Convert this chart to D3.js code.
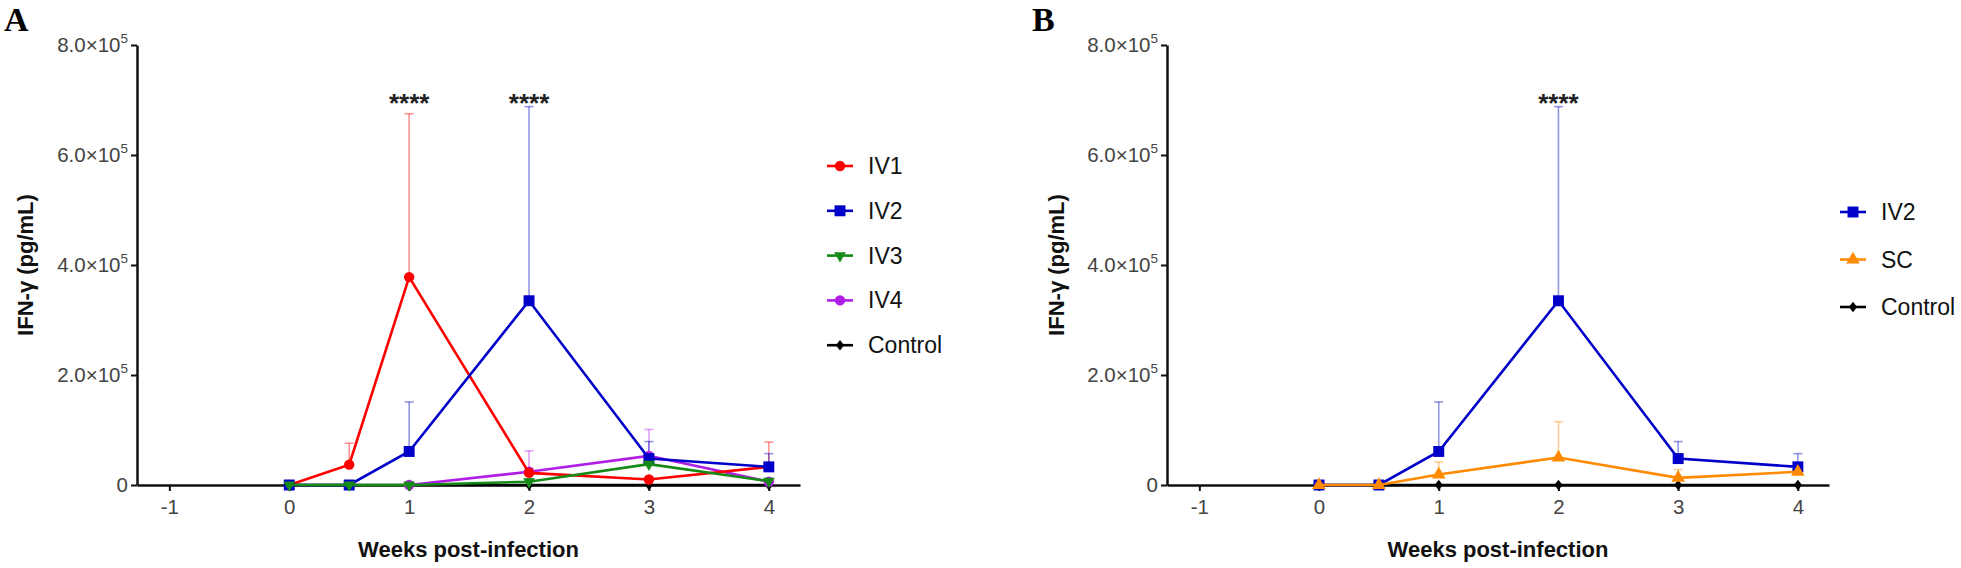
<!DOCTYPE html>
<html>
<head>
<meta charset="utf-8">
<script src="https://cdn.jsdelivr.net/npm/d3@7"></script>
<style>
  html, body { margin: 0; padding: 0; background: #fff; }
  svg { display: block; font-family: Arial, "Liberation Sans", sans-serif; }
</style>
</head>
<body>
<svg id="chart" width="1961" height="568"></svg>
<script>
// ---------------- data ----------------
const weeks = [0, 0.5, 1, 2, 3, 4];
const xTicks = [-1, 0, 1, 2, 3, 4];
const yTicks = [0, 200000, 400000, 600000, 800000];
const yTickLabels = ["0", "2.0×10|5", "4.0×10|5", "6.0×10|5", "8.0×10|5"];

const iv1Mean = [0, 37000, 378000, 22000, 10000, 33000];
const iv1Sd   = [0, 39000, 297000, 8000, 5000, 45000];
const iv2Mean = [0, 0, 61000, 335000, 48000, 33000];
const iv2Sd   = [0, 0, 90000, 353000, 31000, 24000];
const iv3Mean = [0, 0, 0, 6000, 38000, 7000];
const iv3Sd   = [0, 0, 0, 5000, 12000, 3000];
const iv4Mean = [null, null, 0, 24000, 53000, 6000];
const iv4Sd   = [null, null, 0, 38000, 48000, 4000];
const scMean  = [0, 0, 19000, 50000, 13000, 24000];
const scSd    = [0, 0, 23000, 65000, 15000, 8000];
const ctrlMean = [0, 0, 0, 0, 0, 0];
const ctrlSd   = [0, 0, 0, 0, 0, 0];

const sigA = [{week: 1, label: "****"}, {week: 2, label: "****"}];
const sigB = [{week: 2, label: "****"}];

// ---------------- styling ----------------
const diamond = {
  draw(ctx, size) {
    const w = Math.sqrt(size) * 0.55, h = Math.sqrt(size) * 0.7;
    ctx.moveTo(0, -h); ctx.lineTo(w, 0); ctx.lineTo(0, h); ctx.lineTo(-w, 0); ctx.closePath();
  }
};
const triDown = {
  draw(ctx, size) {
    const s = Math.sqrt(size * 4 / Math.sqrt(3));
    const h = s * Math.sqrt(3) / 2;
    ctx.moveTo(-s / 2, -h / 3); ctx.lineTo(s / 2, -h / 3); ctx.lineTo(0, 2 * h / 3); ctx.closePath();
  }
};

const S = {
  IV1: {mean: iv1Mean, sd: iv1Sd, color: "#ff0000", sym: d3.symbolCircle, size: 85},
  IV2: {mean: iv2Mean, sd: iv2Sd, color: "#0000c8", sym: d3.symbolSquare, size: 120},
  IV3: {mean: iv3Mean, sd: iv3Sd, color: "#168a16", sym: triDown, size: 60},
  IV4: {mean: iv4Mean, sd: iv4Sd, color: "#b01ee6", sym: d3.symbolCircle, size: 85},
  SC:  {mean: scMean, sd: scSd, color: "#ff8a00", sym: d3.symbolTriangle, size: 80},
  Control: {mean: ctrlMean, sd: ctrlSd, color: "#000000", sym: diamond, size: 55}
};

const panels = [
  {letter: "A", lx: 4, x0: 137, x1: 800, ytx: 25,
   draw: ["Control", "IV4", "IV1", "IV2", "IV3"],
   legend: ["IV1", "IV2", "IV3", "IV4", "Control"], legX: 840, legY: 166, legStep: 44.8,
   sig: sigA},
  {letter: "B", lx: 1032, x0: 1167, x1: 1829, ytx: 1056,
   draw: ["Control", "IV2", "SC"],
   legend: ["IV2", "SC", "Control"], legX: 1853, legY: 212, legStep: 47.5,
   sig: sigB}
];

const svg = d3.select("#chart");
const yTop = 45, yBot = 485;

panels.forEach(p => {
  const g = svg.append("g");
  const x = d3.scaleLinear().domain([-1.27, 4.26]).range([p.x0, p.x1]);
  const y = d3.scaleLinear().domain([0, 800000]).range([yBot, yTop]);

  // panel letter
  g.append("text").attr("x", p.lx).attr("y", 31)
    .attr("font-family", "'Liberation Serif', 'Times New Roman', serif")
    .attr("font-weight", "bold").attr("font-size", 34).attr("fill", "#000")
    .text(p.letter);

  // y axis
  const ya = g.append("g").attr("transform", `translate(${p.x0},0)`)
    .call(d3.axisLeft(y).tickValues(yTicks).tickSize(6).tickPadding(3).tickSizeOuter(0));
  ya.select(".domain").attr("stroke", "#111").attr("stroke-width", 2.5);
  ya.selectAll(".tick line").attr("stroke", "#111").attr("stroke-width", 2);
  ya.selectAll(".tick text").each(function(d, i) {
    const t = d3.select(this);
    const parts = yTickLabels[i].split("|");
    t.text(null).attr("font-size", 20.5).attr("fill", "#444")
      .attr("font-family", "Arial, 'Liberation Sans', sans-serif");
    t.append("tspan").text(parts[0]);
    if (parts[1]) {
      t.append("tspan").attr("font-size", 13.5).attr("dy", -9).text(parts[1]);
    }
  });

  // x axis
  const xa = g.append("g").attr("transform", `translate(0,${yBot})`)
    .call(d3.axisBottom(x).tickValues(xTicks).tickFormat(d3.format("d")).tickSize(6).tickPadding(8).tickSizeOuter(0));
  xa.select(".domain").attr("stroke", "#111").attr("stroke-width", 2.5);
  xa.selectAll(".tick line").attr("stroke", "#111").attr("stroke-width", 2);
  xa.selectAll(".tick text").attr("font-size", 20.5).attr("fill", "#444")
    .attr("font-family", "Arial, 'Liberation Sans', sans-serif")
    .text(d => d < 0 ? "-" + Math.abs(d) : d);

  // axis titles
  g.append("text")
    .attr("transform", `translate(${p.ytx},${(yTop + yBot) / 2}) rotate(-90)`)
    .attr("text-anchor", "middle").attr("dominant-baseline", "central")
    .attr("font-weight", "bold").attr("font-size", 22).attr("fill", "#111")
    .text("IFN-γ (pg/mL)");
  g.append("text")
    .attr("x", (p.x0 + p.x1) / 2).attr("y", 557)
    .attr("text-anchor", "middle")
    .attr("font-weight", "bold").attr("font-size", 22).attr("fill", "#111")
    .text("Weeks post-infection");

  // error bars (behind)
  p.draw.forEach(name => {
    const s = S[name];
    const pts = weeks.map((w, i) => ({w, m: s.mean[i], sd: s.sd[i]}))
      .filter(d => d.m !== null && d.sd > 0);
    const eg = g.append("g").attr("stroke", s.color).attr("stroke-opacity", 0.42).attr("stroke-width", 1.6);
    eg.selectAll("line.v").data(pts).join("line")
      .attr("x1", d => x(d.w)).attr("x2", d => x(d.w))
      .attr("y1", d => y(d.m)).attr("y2", d => y(d.m + d.sd));
    eg.selectAll("line.c").data(pts).join("line")
      .attr("x1", d => x(d.w) - 4.5).attr("x2", d => x(d.w) + 4.5)
      .attr("y1", d => y(d.m + d.sd)).attr("y2", d => y(d.m + d.sd));
  });

  // lines and markers
  p.draw.forEach(name => {
    const s = S[name];
    const pts = weeks.map((w, i) => ({w, m: s.mean[i]})).filter(d => d.m !== null);
    g.append("path").datum(pts)
      .attr("fill", "none").attr("stroke", s.color).attr("stroke-width", 2.6)
      .attr("stroke-linejoin", "miter")
      .attr("d", d3.line().x(d => x(d.w)).y(d => y(d.m)));
    g.selectAll(null).data(pts).join("path")
      .attr("transform", d => `translate(${x(d.w)},${y(d.m)})`)
      .attr("d", d3.symbol().type(s.sym).size(s.size))
      .attr("fill", s.color);
  });

  // significance
  g.selectAll(null).data(p.sig).join("text")
    .attr("x", d => x(d.week)).attr("y", 112)
    .attr("text-anchor", "middle").attr("font-size", 26).attr("font-weight", "bold").attr("fill", "#222")
    .text(d => d.label);

  // legend
  p.legend.forEach((name, i) => {
    const s = S[name];
    const ly = p.legY + i * p.legStep;
    g.append("line").attr("x1", p.legX - 13).attr("x2", p.legX + 13)
      .attr("y1", ly).attr("y2", ly).attr("stroke", s.color).attr("stroke-width", 2.6);
    g.append("path").attr("transform", `translate(${p.legX},${ly})`)
      .attr("d", d3.symbol().type(s.sym).size(s.size)).attr("fill", s.color);
    g.append("text").attr("x", p.legX + 28).attr("y", ly)
      .attr("dominant-baseline", "central").attr("font-size", 23).attr("fill", "#111")
      .text(name);
  });
});
</script>
</body>
</html>
